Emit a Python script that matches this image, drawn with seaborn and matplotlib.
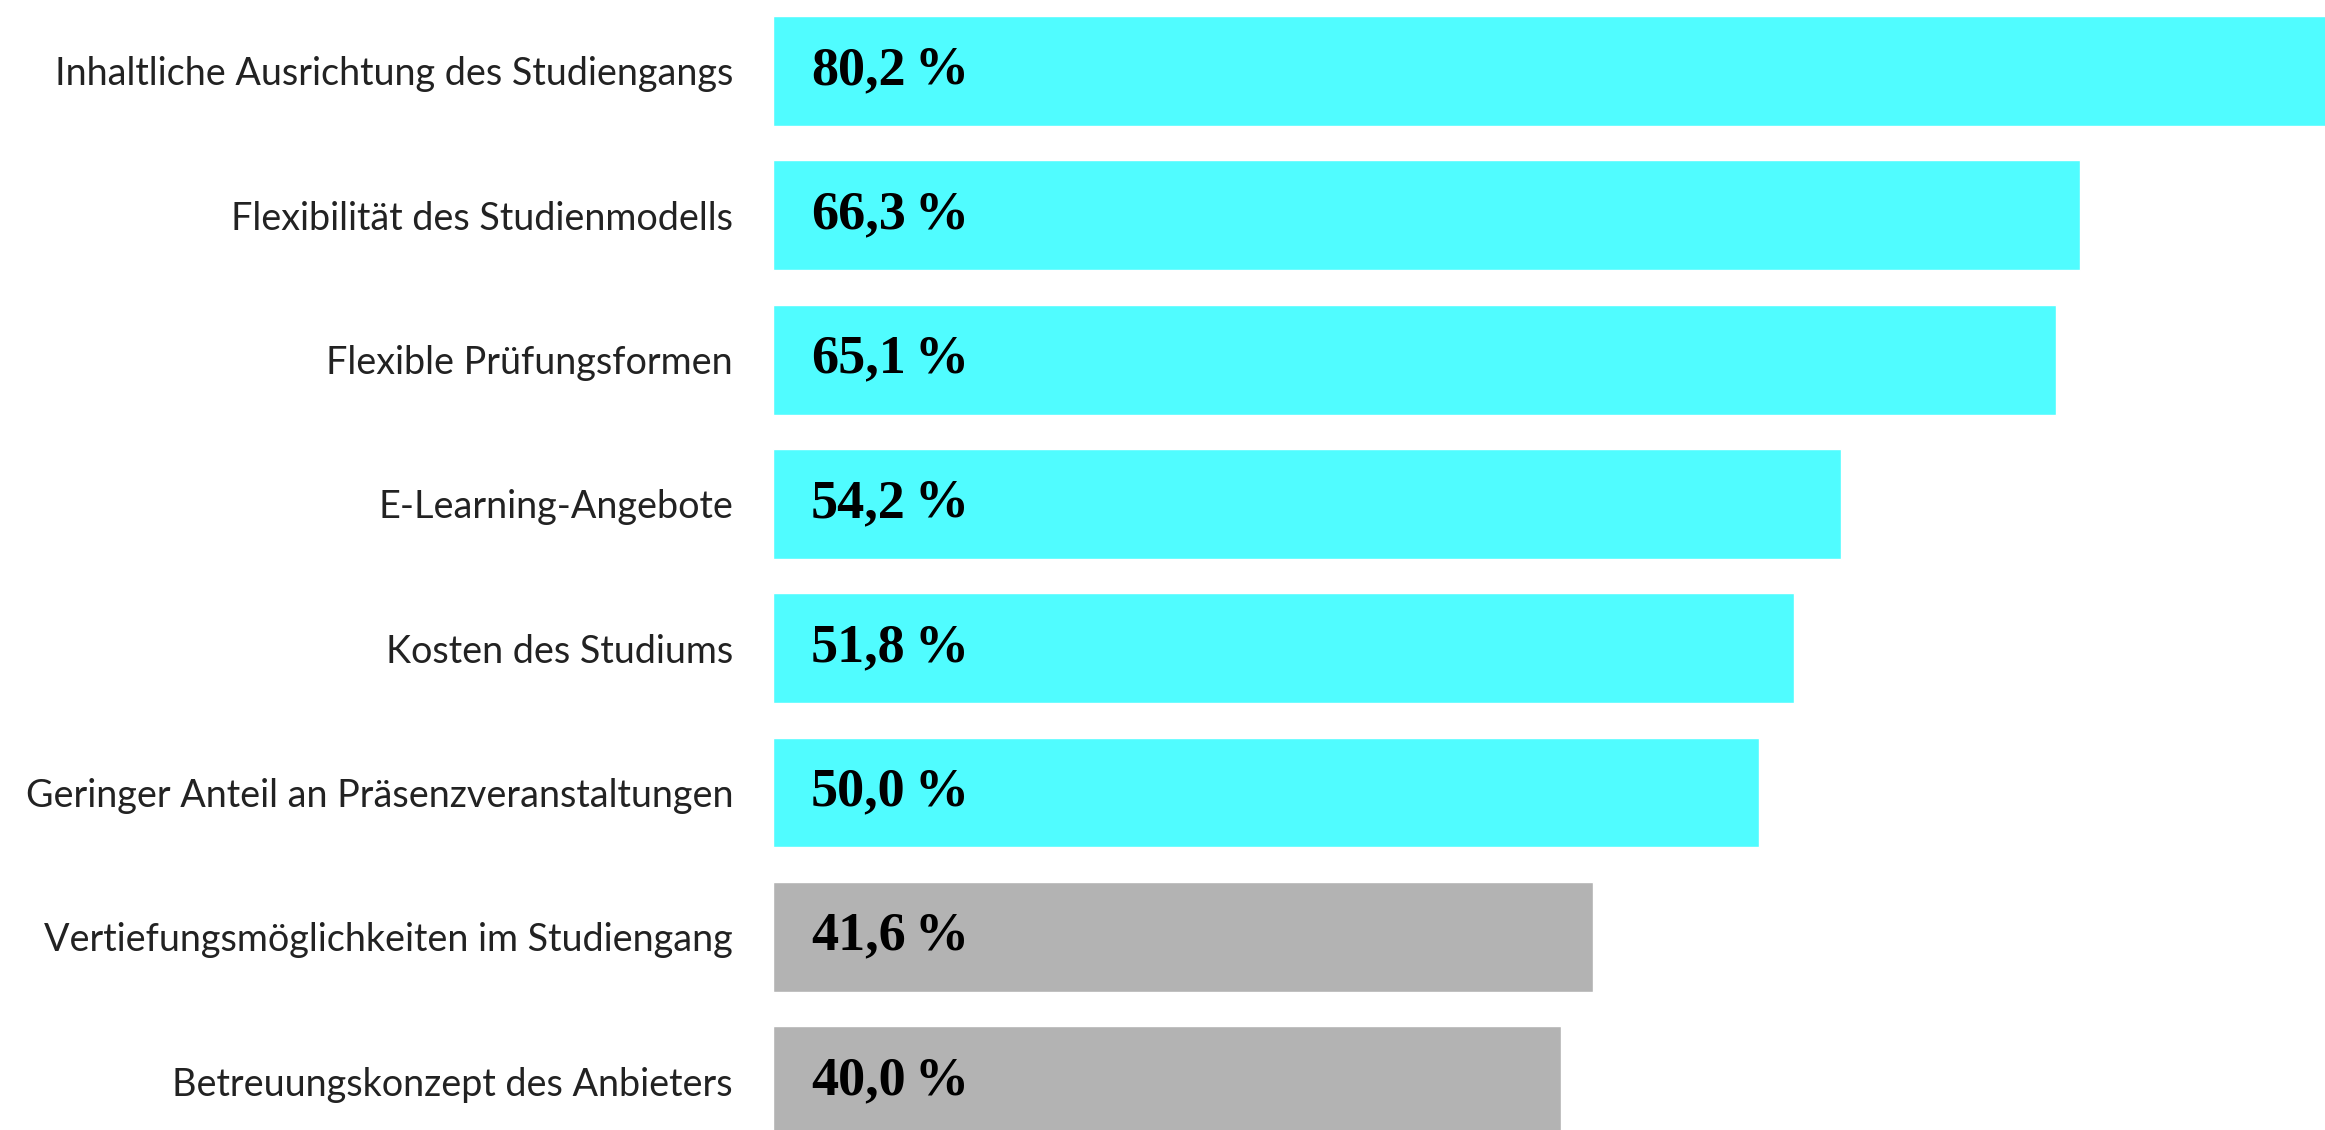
import matplotlib
matplotlib.use("Agg")
import matplotlib.pyplot as plt
import seaborn as sns
import pandas as pd

categories = [
    "Inhaltliche Ausrichtung des Studiengangs",
    "Flexibilität des Studienmodells",
    "Flexible Prüfungsformen",
    "E-Learning-Angebote",
    "Kosten des Studiums",
    "Geringer Anteil an Präsenzveranstaltungen",
    "Vertiefungsmöglichkeiten im Studiengang",
    "Betreuungskonzept des Anbieters",
]
values = [80.2, 66.3, 65.1, 54.2, 51.8, 50.0, 41.6, 40.0]
highlight = [True, True, True, True, True, True, False, False]

CYAN = "#50fcff"
GREY = "#b3b3b3"

df = pd.DataFrame({"Kriterium": categories, "Anteil": values})
colors = [CYAN if h else GREY for h in highlight]

sns.set_theme(style="white")
plt.rcParams["font.family"] = ["Lato", "DejaVu Sans"]

fig = plt.figure(figsize=(23.25, 11.3), dpi=100)
ax = fig.add_axes([773 / 2325, 0, 1 - 773 / 2325, 1])

sns.barplot(data=df, y="Kriterium", x="Anteil", hue="Kriterium",
            palette=colors, legend=False, width=0.762, saturation=1,
            orient="h", ax=ax)

ax.set_xlim(0, 78.74)
ax.set_ylim(7.339, -0.492)
ax.set_xlabel("")
ax.set_ylabel("")
ax.set_xticks([])
sns.despine(ax=ax, left=True, bottom=True)
ax.tick_params(axis="y", length=0, pad=28.8)
for lbl in ax.get_yticklabels():
    lbl.set_fontsize(27.2)
    lbl.set_fontweight("normal")
    lbl.set_color("#222222")

# Werte in die Balken schreiben (Zahl und % mit schmalem Abstand)
serif = ["Liberation Serif", "DejaVu Serif"]
for i, v in enumerate(values):
    num = f"{v:.1f}".replace(".", ",")
    ax.annotate(num, (1.93, i), ha="left", va="center", fontsize=39,
                fontweight="bold", color="black", family=serif)
    ax.annotate("%", (1.93, i), xytext=(74.5, 0), textcoords="offset points",
                ha="left", va="center", fontsize=39,
                fontweight="bold", color="black", family=serif)

fig.savefig("out.png", dpi=100)
